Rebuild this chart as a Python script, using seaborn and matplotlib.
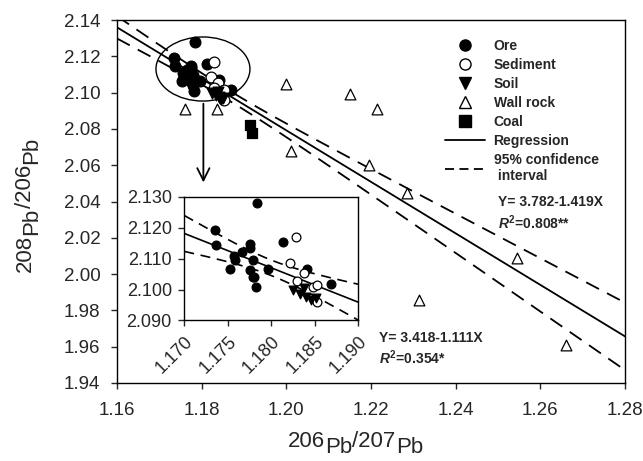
import numpy as np
import pandas as pd
import matplotlib
matplotlib.use("Agg")
import matplotlib.pyplot as plt
import seaborn as sns
from matplotlib.lines import Line2D
from matplotlib.patches import Ellipse

sns.set_style("ticks")
plt.rcParams["font.family"] = ["Liberation Sans", "DejaVu Sans"]
plt.rcParams["mathtext.fontset"] = "custom"
plt.rcParams["mathtext.it"] = "Liberation Sans:italic:bold"
plt.rcParams["mathtext.bf"] = "Liberation Sans:bold"
plt.rcParams["mathtext.rm"] = "Liberation Sans"

# Data (206Pb/207Pb, 208Pb/206Pb)
ore_x = [1.1784, 1.1735, 1.1737, 1.1813, 1.1775, 1.1775, 1.1766, 1.1757, 1.1758,
         1.1779, 1.1753, 1.1775, 1.1779, 1.1780, 1.1782, 1.1796, 1.1841, 1.1869]
ore_y = [2.1279, 2.1192, 2.1144, 2.1155, 2.1147, 2.1133, 2.1122, 2.1110, 2.1094,
         2.1096, 2.1065, 2.1063, 2.1042, 2.1040, 2.1009, 2.1065, 2.1068, 2.1017]
sed_x = [1.1828, 1.1822, 1.1838, 1.1830, 1.1848, 1.1852, 1.1853]
sed_y = [2.1171, 2.1087, 2.1055, 2.1026, 2.1008, 2.1015, 2.0961]
soil_x = [1.1825, 1.1833, 1.1840, 1.1846, 1.1851, 1.1838]
soil_y = [2.0999, 2.0986, 2.0976, 2.0966, 2.0973, 2.1005]
wall_x = [1.1760, 1.1835, 1.2000, 1.2150, 1.2215, 1.2010, 1.2195, 1.2285, 1.2545, 1.2313, 1.2660]
wall_y = [2.0910, 2.0910, 2.1050, 2.0990, 2.0910, 2.0680, 2.0600, 2.0445, 2.0090, 1.9860, 1.9610]
coal_x = [1.1915, 1.1920]
coal_y = [2.0820, 2.0780]

# regression Y = a + bX and confidence band parameters
main_a, main_b = 3.782, -1.419
main_ci = (0.1985, 1.1875, 0.0002)   # scale, centre, offset
ins_a, ins_b = 3.418, -1.111
ins_ci = (0.523, 1.180, 0.0000228)

groups = [
    ("Ore", ore_x, ore_y, "o", "black"),
    ("Sediment", sed_x, sed_y, "o", "white"),
    ("Soil", soil_x, soil_y, "v", "black"),
    ("Wall rock", wall_x, wall_y, "^", "white"),
    ("Coal", coal_x, coal_y, "s", "black"),
]

fig = plt.figure(figsize=(6.43, 4.61), dpi=100)
ax = fig.add_axes([0.182, 0.1692, 0.790, 0.7874])
ins = fig.add_axes([0.2866, 0.3048, 0.2706, 0.2685])


def draw_fit(a, b, ci, x0, x1, axis, lw, dash):
    xs = np.linspace(x0, x1, 200)
    fit = a + b * xs
    half = ci[0] * np.sqrt(ci[2] + (xs - ci[1]) ** 2)
    sns.lineplot(x=xs, y=fit, ax=axis, color="black", lw=lw)
    sns.lineplot(x=xs, y=fit + half, ax=axis, color="black", lw=lw, linestyle=dash)
    sns.lineplot(x=xs, y=fit - half, ax=axis, color="black", lw=lw, linestyle=dash)


draw_fit(main_a, main_b, main_ci, 1.16, 1.28, ax, 1.3, (0, (8, 5)))
draw_fit(ins_a, ins_b, ins_ci, 1.17, 1.19, ins, 1.2, (0, (6, 4)))

for name, xs, ys, mk, fc in groups:
    sns.scatterplot(x=xs, y=ys, ax=ax, marker=mk, s=60, color=fc,
                    edgecolor="black", linewidth=0.9, zorder=3)
    if name in ("Ore", "Sediment", "Soil"):
        sns.scatterplot(x=xs, y=ys, ax=ins, marker=mk, s=40, color=fc,
                        edgecolor="black", linewidth=0.9, zorder=3)

ax.add_patch(Ellipse((1.1803, 2.113), 0.0222, 0.0353, fill=False, lw=1.0, ec="black"))
ax.annotate("", xy=(1.1804, 2.049), xytext=(1.1804, 2.0954),
            arrowprops=dict(arrowstyle="->", lw=1.3, color="black", mutation_scale=22))

ax.set_xlim(1.16, 1.28)
ax.set_ylim(1.94, 2.14)
ax.set_xticks(np.arange(1.16, 1.2801, 0.02))
ax.set_yticks(np.arange(1.94, 2.1401, 0.02))
ax.xaxis.set_major_formatter(plt.FormatStrFormatter("%.2f"))
ax.yaxis.set_major_formatter(plt.FormatStrFormatter("%.2f"))
ax.tick_params(labelsize=13.5, length=4, width=1, pad=8)
ax.tick_params(axis="x", pad=10)
ax.set_xlabel("")
ax.set_ylabel("")

ins.set_xlim(1.17, 1.19)
ins.set_ylim(2.09, 2.13)
ins.set_xticks(np.arange(1.17, 1.1901, 0.005))
ins.set_yticks(np.arange(2.09, 2.1301, 0.01))
ins.xaxis.set_major_formatter(plt.FormatStrFormatter("%.3f"))
ins.yaxis.set_major_formatter(plt.FormatStrFormatter("%.3f"))
ins.tick_params(labelsize=13, length=4, width=1, pad=5)
for lab in ins.get_xticklabels():
    lab.set_rotation(45)
    lab.set_ha("right")
    lab.set_rotation_mode("anchor")

for a_ in (ax, ins):
    for sp in a_.spines.values():
        sp.set_visible(True)
        sp.set_linewidth(1.0)
        sp.set_color("black")

# equations
ax.text(1.2500, 2.0399, "Y= 3.782-1.419X", fontsize=10, fontweight="bold", va="center")
ax.text(1.2500, 2.0281, r"$\mathit{R}^{\mathbf{2}}$=0.808**", fontsize=10, fontweight="bold", va="center")
ax.text(1.2219, 1.9648, "Y= 3.418-1.111X", fontsize=10, fontweight="bold", va="center")
ax.text(1.2219, 1.9538, r"$\mathit{R}^{\mathbf{2}}$=0.354*", fontsize=10, fontweight="bold", va="center")

# legend
handles = [Line2D([], [], marker=mk, color="black", markerfacecolor=fc, markeredgecolor="black",
                  linestyle="none", markersize=8)
           for _, _, _, mk, fc in groups]
handles.append(Line2D([], [], color="black", lw=1.3))
handles.append(Line2D([], [], color="black", lw=1.3, linestyle=(0, (5, 3))))
labels = [g[0] for g in groups] + ["Regression", "95% confidence\n interval"]
leg = fig.legend(handles, labels, loc="upper left", bbox_to_anchor=(445 / 643, 1 - 39 / 461),
                 frameon=False, prop={"size": 10, "weight": "bold"}, handlelength=2.9,
                 handletextpad=0.6, labelspacing=0.36, borderaxespad=0, borderpad=0)


def pb_label(x, y, parts, rotation):
    # parts: list of (text, lowered?) drawn one after another
    lower = 4.5
    first = fig.text(x, y, parts[0][0], fontsize=16, rotation=rotation,
                     ha="left" if rotation == 0 else "right", va="bottom")
    prev, prev_low = first, parts[0][1]
    for txt, low in parts[1:]:
        shift = (prev_low - low) * lower
        if rotation == 0:
            t = ax.annotate(txt, xy=(1, 0), xycoords=prev, xytext=(0, shift),
                            textcoords="offset points", ha="left", va="bottom",
                            fontsize=16, annotation_clip=False)
        else:
            t = ax.annotate(txt, xy=(1, 1), xycoords=prev, xytext=(-shift, 0),
                            textcoords="offset points", ha="right", va="bottom",
                            fontsize=16, rotation=90, annotation_clip=False)
        prev, prev_low = t, low


pb_label(288 / 643, 1 - 452 / 461, [("206", 0), ("Pb", 1), ("/207", 0), ("Pb", 1)], 0)
pb_label(36 / 643, 1 - 272 / 461, [("208", 0), ("Pb", 1), ("/206", 0), ("Pb", 1)], 90)

fig.savefig("out.png", dpi=100)
